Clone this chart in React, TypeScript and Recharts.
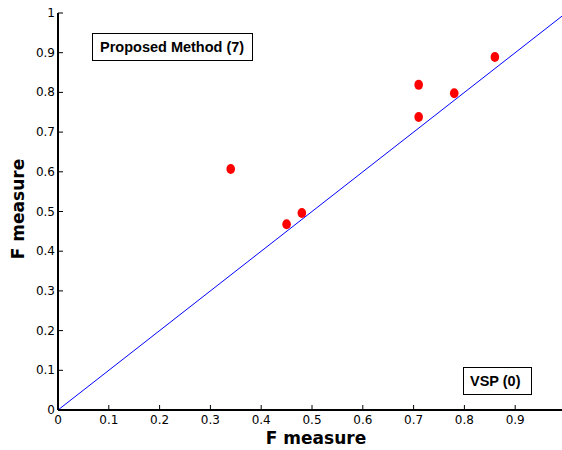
import { ScatterChart, Scatter, XAxis, YAxis, ReferenceLine } from "recharts";

const fx = [0.34, 0.45, 0.48, 0.71, 0.71, 0.78, 0.86];
const fy = [0.607, 0.468, 0.496, 0.819, 0.738, 0.798, 0.889];
const xTicks = [0, 0.1, 0.2, 0.3, 0.4, 0.5, 0.6, 0.7, 0.8, 0.9];
const yTicks = [0, 0.1, 0.2, 0.3, 0.4, 0.5, 0.6, 0.7, 0.8, 0.9, 1];
const tickLabel = (v: number) => (v === 0 ? "0" : v === 1 ? "1" : String(v));

const points = fx.map((x, i) => ({ x, y: fy[i] }));

const tickFont = { fontFamily: "DejaVu Sans", fontSize: 12, fill: "#000" };

const BottomTick = (props: any) => {
  const { x, y, payload } = props;
  return (
    <g>
      <line x1={x} y1={y} x2={x} y2={y - 5} stroke="#000" strokeWidth={1} />
      <text x={x} y={y + 14} textAnchor="middle" {...tickFont}>
        {tickLabel(payload.value)}
      </text>
    </g>
  );
};

const TopTick = (props: any) => {
  const { x, y } = props;
  return <line x1={x} y1={y} x2={x} y2={y + 5} stroke="#000" strokeWidth={1} />;
};

const LeftTick = (props: any) => {
  const { x, y, payload } = props;
  return (
    <g>
      <line x1={x} y1={y} x2={x + 5} y2={y} stroke="#000" strokeWidth={1} />
      <text x={x - 3} y={y + 4} textAnchor="end" {...tickFont}>
        {tickLabel(payload.value)}
      </text>
    </g>
  );
};

const RightTick = (props: any) => {
  const { x, y } = props;
  return <line x1={x} y1={y} x2={x - 5} y2={y} stroke="#000" strokeWidth={1} />;
};

const Dot = (props: any) => {
  const { cx, cy } = props;
  return <ellipse cx={cx} cy={cy} rx={4.3} ry={5} fill="#ff0000" />;
};

const axisLine = { stroke: "#000", strokeWidth: 2 };

export default function App() {
  return (
    <div
      style={{
        position: "absolute",
        left: 0,
        top: 0,
        width: 562,
        height: 450,
        overflow: "hidden",
        background: "#fff",
      }}
    >
      <ScatterChart
        width={600}
        height={450}
        margin={{ top: 13, right: 34, bottom: 0, left: 0 }}
      >
        <XAxis
          xAxisId="b"
          type="number"
          dataKey="x"
          domain={[0, 1]}
          ticks={xTicks}
          interval={0}
          height={40}
          tickSize={0}
          tickMargin={0}
          tick={<BottomTick />}
          axisLine={axisLine}
        />
        <XAxis
          xAxisId="t"
          type="number"
          orientation="top"
          domain={[0, 1]}
          ticks={xTicks}
          interval={0}
          height={0}
          tickSize={0}
          tickMargin={0}
          tick={<TopTick />}
          axisLine={axisLine}
        />
        <YAxis
          yAxisId="l"
          type="number"
          dataKey="y"
          domain={[0, 1]}
          ticks={yTicks}
          interval={0}
          width={58}
          tickSize={0}
          tickMargin={0}
          tick={<LeftTick />}
          axisLine={axisLine}
        />
        <YAxis
          yAxisId="r"
          type="number"
          orientation="right"
          domain={[0, 1]}
          ticks={yTicks}
          interval={0}
          width={0}
          tickSize={0}
          tickMargin={0}
          tick={<RightTick />}
          axisLine={axisLine}
        />
        <ReferenceLine
          xAxisId="b"
          yAxisId="l"
          segment={[
            { x: 0, y: 0 },
            { x: 1, y: 1 },
          ]}
          stroke="#0000ff"
          strokeWidth={1}
        />
        <Scatter
          xAxisId="b"
          yAxisId="l"
          data={points}
          shape={<Dot />}
          isAnimationActive={false}
        />
      </ScatterChart>
      <svg
        width={562}
        height={450}
        style={{ position: "absolute", left: 0, top: 0, pointerEvents: "none" }}
      >
        <text
          x={316}
          y={444}
          textAnchor="middle"
          fontFamily="DejaVu Sans"
          fontWeight="bold"
          fontSize={17}
        >
          F measure
        </text>
        <text
          x={24}
          y={209}
          textAnchor="middle"
          transform="rotate(-90, 24, 209)"
          fontFamily="DejaVu Sans"
          fontWeight="bold"
          fontSize={17}
        >
          F measure
        </text>
        <rect x={92.5} y={33.5} width={160} height={27} fill="#fff" stroke="#000" strokeWidth={1} />
        <text x={100} y={52} fontFamily="Liberation Sans" fontWeight="bold" fontSize={14.5}>
          Proposed Method (7)
        </text>
        <rect x={463.5} y={367.5} width={68} height={27} fill="#fff" stroke="#000" strokeWidth={1} />
        <text x={470} y={386} fontFamily="Liberation Sans" fontWeight="bold" fontSize={14.5}>
          VSP (0)
        </text>
      </svg>
    </div>
  );
}
